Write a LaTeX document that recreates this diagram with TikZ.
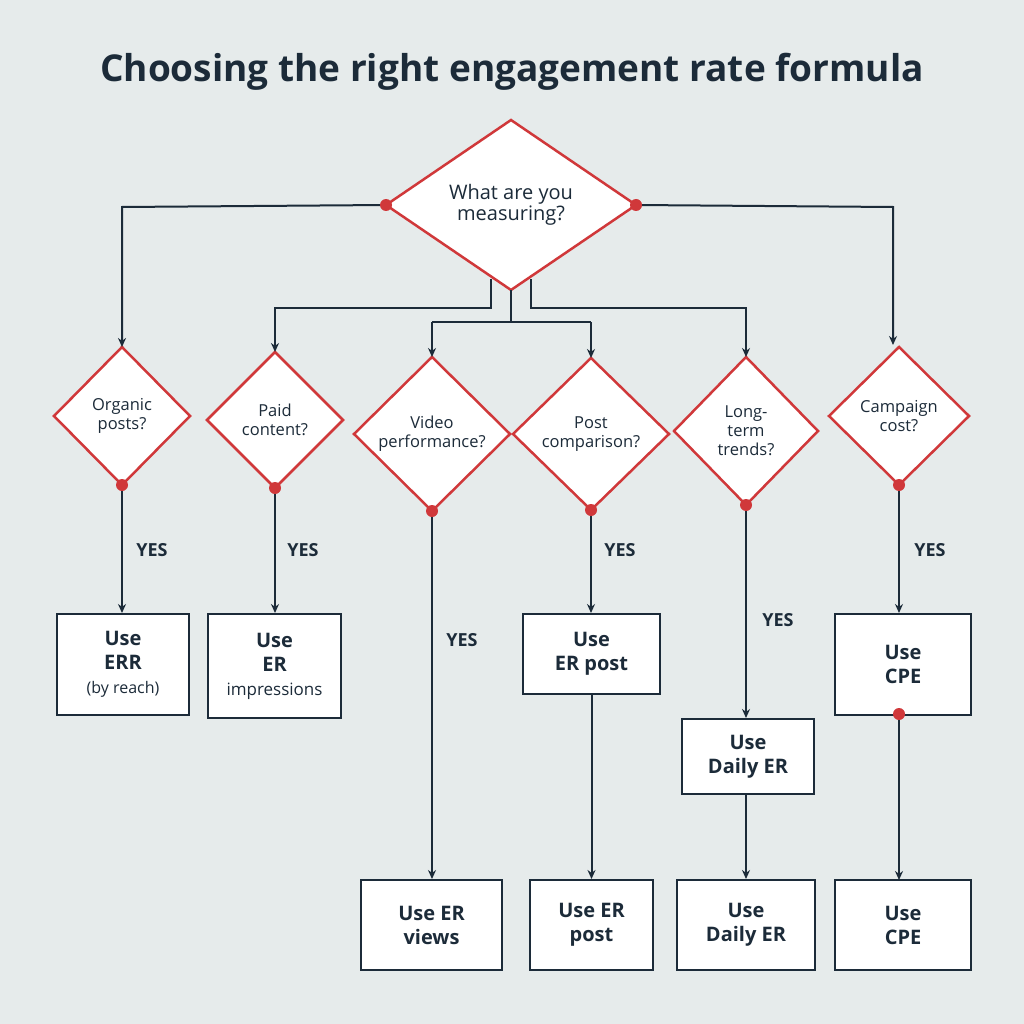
\documentclass[tikz,border=0pt]{standalone}
\usepackage{fontspec}
\setmainfont{Open Sans}
\usetikzlibrary{shapes.geometric,arrows.meta}
\definecolor{bg}{HTML}{E6EBEB}
\definecolor{navy}{HTML}{1C2B39}
\definecolor{rd}{HTML}{D0383A}
\begin{document}
\begin{tikzpicture}[x=1pt,y=-1pt,
  ln/.style={navy,line width=2pt,-{Stealth[length=9pt,width=8pt]}},
  pl/.style={navy,line width=2pt},
  dot/.style={circle,fill=rd,inner sep=0pt,minimum size=12pt},
  yes/.style={text=navy,font=\bfseries\fontsize{18}{20}\selectfont},
  box/.style={draw=navy,line width=2pt,fill=white,text=navy,align=center,font=\bfseries\fontsize{20}{24}\selectfont}]
\fill[bg] (0,0) rectangle (1024,1024);
\useasboundingbox (0,0) rectangle (1024,1024);
\node[text=navy,font=\bfseries\fontsize{37}{42}\selectfont] (title) at (512,72) {Choosing the right engagement rate formula};
\newcommand{\dmd}[6]{%
 \draw[rd,line width=2.5pt,fill=white,line join=miter] (#2-#4,#3) -- (#2,#3-#5) -- (#2+#4,#3) -- (#2,#3+#5) -- cycle;
 \coordinate (#1T) at (#2,#3-#5); \coordinate (#1B) at (#2,#3+#5);
 \coordinate (#1L) at (#2-#4,#3); \coordinate (#1R) at (#2+#4,#3);
 \node[text=navy,align=center,font=\fontsize{16.5}{19}\selectfont] (#1) at (#2,#3) {#6};}
\dmd{m}{511}{205}{125}{85}{\fontsize{20}{24}\selectfont What are you\\\fontsize{20}{24}\selectfont measuring?}
\dmd{a}{122}{416}{68}{69}{Organic\\posts?}
\dmd{b}{275}{420}{68}{68}{Paid\\content?}
\dmd{c}{432}{434}{78}{77}{Video\\performance?}
\dmd{d}{591}{434}{78}{76}{Post\\comparison?}
\dmd{e}{746}{431}{72}{74}{Long-\\term\\trends?}
\dmd{f}{899}{416}{70}{69}{Campaign\\cost?}
\node[box,minimum width=132pt,minimum height=101pt] (A) at (123,664.5) {Use\\ERR\\{\mdseries\fontsize{16}{20}\selectfont (by reach)}};
\node[box,minimum width=133pt,minimum height=104pt] (B) at (274.5,666) {Use\\ER\\{\mdseries\fontsize{17}{20}\selectfont impressions}};
\node[box,minimum width=137pt,minimum height=80pt] (D) at (591.5,654) {Use\\ER post};
\node[box,minimum width=132pt,minimum height=75pt] (E) at (748,756.5) {Use\\Daily ER};
\node[box,minimum width=136pt,minimum height=101pt] (F) at (903,664.5) {Use\\CPE};
\node[box,minimum width=141pt,minimum height=90pt] (C2) at (431.5,925) {Use ER\\views};
\node[box,minimum width=123pt,minimum height=90pt] (D2) at (591.5,925) {Use ER\\post};
\node[box,minimum width=138pt,minimum height=90pt] (E2) at (746,925) {Use\\Daily ER};
\node[box,minimum width=136pt,minimum height=90pt] (F2) at (903,925) {Use\\CPE};
\draw[ln] (mL) -- (122,207) -- (aT);
\draw[ln] (mR) -- (893,207) -- (893,345);
\coordinate (m1) at (491,279); \coordinate (m2) at (511,290); \coordinate (m3) at (531,279);
\draw[ln] (m1) -- (491,308) -- (275,308) -- (bT);
\draw[pl] (m2) -- (511,322);
\draw[ln] (432,322) -- (cT);
\draw[ln] (591,322) -- (dT);
\draw[pl] (432,322) -- (591,322);
\draw[ln] (m3) -- (531,308) -- (746,308) -- (eT);
\node[dot] at (mL) {}; \node[dot] at (mR) {};
\draw[ln] (aB) -- (aB|-A.north);
\node[yes] at (152,550) {YES};
\draw[ln] (bB) -- (bB|-B.north);
\node[yes] at (303,550) {YES};
\draw[ln] (cB) -- (cB|-C2.north);
\node[yes] at (462,640) {YES};
\draw[ln] (dB) -- (dB|-D.north);
\node[yes] at (620,550) {YES};
\draw[ln] (eB) -- (eB|-E.north);
\node[yes] at (778,620) {YES};
\draw[ln] (fB) -- (fB|-F.north);
\node[yes] at (930,550) {YES};
\draw[ln] (D.south) -- (D2.north);
\draw[ln] (E2.north|-E.south) -- (E2.north);
\draw[ln] (899,715) -- (899,880);
\foreach \p in {aB,bB,cB,dB,eB,fB} \node[dot] at (\p) {};
\node[dot] at (899,714) {};
\end{tikzpicture}
\end{document}
